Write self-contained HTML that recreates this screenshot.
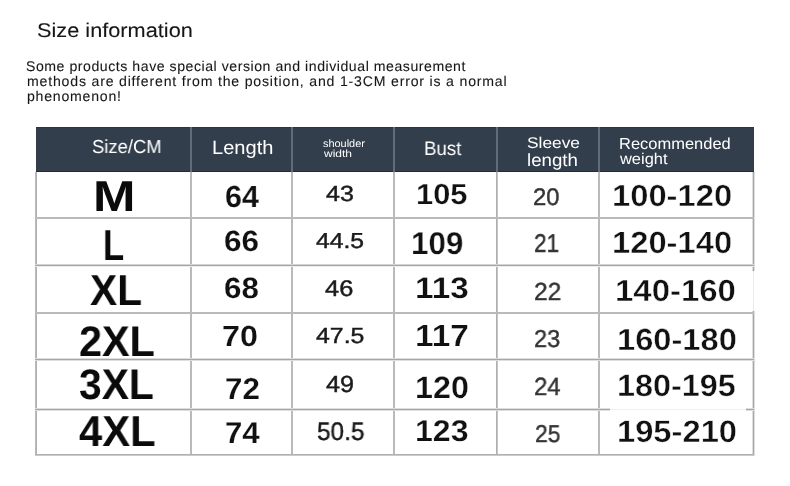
<!DOCTYPE html>
<html><head><meta charset="utf-8"><style>
html,body{margin:0;padding:0;background:#fff;width:790px;height:486px;overflow:hidden}
body>div{position:absolute}
.t{font-family:"Liberation Sans",sans-serif;line-height:1;white-space:pre;transform-origin:0 0;text-rendering:geometricPrecision;will-change:transform}
</style></head><body>
<div style="left:36px;top:127px;width:718px;height:45px;background:#333e4d;"></div>
<div style="left:36px;top:127px;width:718px;height:1px;background:#2e3540;"></div>
<div style="left:36px;top:171px;width:718px;height:1px;background:#232b36;"></div>
<div style="left:190px;top:127px;width:2px;height:45px;background:#5f6c7a;"></div>
<div style="left:291px;top:127px;width:2px;height:45px;background:#5f6c7a;"></div>
<div style="left:393px;top:127px;width:2px;height:45px;background:#5f6c7a;"></div>
<div style="left:496px;top:127px;width:2px;height:45px;background:#5f6c7a;"></div>
<div style="left:598px;top:127px;width:2px;height:45px;background:#5f6c7a;"></div>
<div style="left:35px;top:172px;width:1px;height:283px;background:#bababa;"></div>
<div style="left:36px;top:172px;width:1px;height:283px;background:#b0b0b0;"></div>
<div style="left:190px;top:172px;width:1px;height:283px;background:#bababa;"></div>
<div style="left:191px;top:172px;width:1px;height:283px;background:#bababa;"></div>
<div style="left:291px;top:172px;width:1px;height:283px;background:#bababa;"></div>
<div style="left:292px;top:172px;width:1px;height:283px;background:#bababa;"></div>
<div style="left:393px;top:172px;width:1px;height:283px;background:#bababa;"></div>
<div style="left:394px;top:172px;width:1px;height:283px;background:#bababa;"></div>
<div style="left:496px;top:172px;width:1px;height:283px;background:#b0b0b0;"></div>
<div style="left:497px;top:172px;width:1px;height:283px;background:#c4c4c4;"></div>
<div style="left:598px;top:172px;width:1px;height:283px;background:#bababa;"></div>
<div style="left:599px;top:172px;width:1px;height:283px;background:#bababa;"></div>
<div style="left:753px;top:172px;width:1px;height:99px;background:#a6a6a6;"></div>
<div style="left:752px;top:172px;width:1px;height:99px;background:#dedede;"></div>
<div style="left:754px;top:172px;width:1px;height:99px;background:#dedede;"></div>
<div style="left:753px;top:311px;width:1px;height:145px;background:#a6a6a6;"></div>
<div style="left:752px;top:311px;width:1px;height:145px;background:#dedede;"></div>
<div style="left:754px;top:311px;width:1px;height:145px;background:#dedede;"></div>
<div style="left:753px;top:271px;width:1px;height:40px;background:#ececec;"></div>
<div style="left:35px;top:217px;width:719px;height:1px;background:#bababa;"></div>
<div style="left:35px;top:218px;width:719px;height:1px;background:#bababa;"></div>
<div style="left:35px;top:264px;width:719px;height:1px;background:#d4d4d4;"></div>
<div style="left:35px;top:265px;width:719px;height:1px;background:#a6a6a6;"></div>
<div style="left:35px;top:266px;width:719px;height:1px;background:#ececec;"></div>
<div style="left:35px;top:312px;width:719px;height:1px;background:#bababa;"></div>
<div style="left:35px;top:313px;width:719px;height:1px;background:#bababa;"></div>
<div style="left:35px;top:358px;width:719px;height:1px;background:#dedede;"></div>
<div style="left:35px;top:359px;width:719px;height:1px;background:#a6a6a6;"></div>
<div style="left:35px;top:360px;width:719px;height:1px;background:#dedede;"></div>
<div style="left:35px;top:454px;width:719px;height:1px;background:#b0b0b0;"></div>
<div style="left:35px;top:455px;width:719px;height:1px;background:#cacaca;"></div>
<div style="left:35px;top:408px;width:575px;height:1px;background:#dedede;"></div>
<div style="left:746px;top:408px;width:8px;height:1px;background:#dedede;"></div>
<div style="left:35px;top:409px;width:575px;height:1px;background:#a6a6a6;"></div>
<div style="left:746px;top:409px;width:8px;height:1px;background:#a6a6a6;"></div>
<div style="left:35px;top:410px;width:575px;height:1px;background:#dedede;"></div>
<div style="left:746px;top:410px;width:8px;height:1px;background:#dedede;"></div>
<div style="left:610px;top:409px;width:136px;height:1px;background:#f0f0f0;"></div>
<div class="t" style="left:37.06px;top:22.44px;font-size:19.834px;font-weight:400;color:#161616;transform:scaleX(1.096);letter-spacing:0px;-webkit-text-stroke:0.1px #161616">Size information</div>
<div class="t" style="left:26.38px;top:59.49px;font-size:14.1px;font-weight:400;color:#161616;transform:scaleX(1.0);letter-spacing:0.547px;-webkit-text-stroke:0.1px #161616">Some products have special version and individual measurement</div>
<div class="t" style="left:26.57px;top:74.43px;font-size:14.1px;font-weight:400;color:#161616;transform:scaleX(1.0);letter-spacing:0.814px;-webkit-text-stroke:0.1px #161616">methods are different from the position, and 1-3CM error is a normal</div>
<div class="t" style="left:26.58px;top:89.44px;font-size:14.1px;font-weight:400;color:#161616;transform:scaleX(1.0);letter-spacing:0.775px;-webkit-text-stroke:0.1px #161616">phenomenon!</div>
<div class="t" style="left:92.03px;top:137.71px;font-size:18.872px;font-weight:400;color:#ffffff;transform:scaleX(0.9763);letter-spacing:0px;-webkit-text-stroke:0">Size/CM</div>
<div class="t" style="left:211.64px;top:138.79px;font-size:19.229px;font-weight:400;color:#ffffff;transform:scaleX(1.0442);letter-spacing:0px;-webkit-text-stroke:0">Length</div>
<div class="t" style="left:323.14px;top:139.04px;font-size:10.619px;font-weight:400;color:#ffffff;transform:scaleX(1.029);letter-spacing:0px;-webkit-text-stroke:0">shoulder</div>
<div class="t" style="left:323.9px;top:150.47px;font-size:10.345px;font-weight:400;color:#ffffff;transform:scaleX(1.1629);letter-spacing:0px;-webkit-text-stroke:0">width</div>
<div class="t" style="left:424.35px;top:139.71px;font-size:19.482px;font-weight:400;color:#ffffff;transform:scaleX(0.959);letter-spacing:0px;-webkit-text-stroke:0">Bust</div>
<div class="t" style="left:527.13px;top:135.94px;font-size:15.572px;font-weight:400;color:#ffffff;transform:scaleX(1.1126);letter-spacing:0px;-webkit-text-stroke:0">Sleeve</div>
<div class="t" style="left:527.05px;top:151.55px;font-size:17.625px;font-weight:400;color:#ffffff;transform:scaleX(1.0594);letter-spacing:0px;-webkit-text-stroke:0">length</div>
<div class="t" style="left:618.74px;top:136.61px;font-size:15.873px;font-weight:400;color:#ffffff;transform:scaleX(1.0387);letter-spacing:0px;-webkit-text-stroke:0">Recommended</div>
<div class="t" style="left:620.44px;top:152.28px;font-size:15.468px;font-weight:400;color:#ffffff;transform:scaleX(1.0638);letter-spacing:0px;-webkit-text-stroke:0">weight</div>
<div class="t" style="left:93.28px;top:176.03px;font-size:43.178px;font-weight:700;color:#0a0a0a;transform:scaleX(1.1815);letter-spacing:0px;-webkit-text-stroke:0">M</div>
<div class="t" style="left:103.22px;top:224.94px;font-size:43.089px;font-weight:700;color:#0a0a0a;transform:scaleX(0.8068);letter-spacing:0px;-webkit-text-stroke:0">L</div>
<div class="t" style="left:89.61px;top:270.12px;font-size:43.384px;font-weight:700;color:#0a0a0a;transform:scaleX(0.9368);letter-spacing:0px;-webkit-text-stroke:0">XL</div>
<div class="t" style="left:78.85px;top:321.0px;font-size:42.809px;font-weight:700;color:#0a0a0a;transform:scaleX(0.9671);letter-spacing:0px;-webkit-text-stroke:0">2XL</div>
<div class="t" style="left:78.7px;top:364.49px;font-size:42.809px;font-weight:700;color:#0a0a0a;transform:scaleX(0.9545);letter-spacing:0px;-webkit-text-stroke:0">3XL</div>
<div class="t" style="left:78.97px;top:410.83px;font-size:43.178px;font-weight:700;color:#0a0a0a;transform:scaleX(0.9685);letter-spacing:0px;-webkit-text-stroke:0">4XL</div>
<div class="t" style="left:224.66px;top:181.86px;font-size:30.719px;font-weight:700;color:#111111;transform:scaleX(0.9943);letter-spacing:0px;-webkit-text-stroke:0.15px #fff">64</div>
<div class="t" style="left:223.83px;top:226.93px;font-size:29.365px;font-weight:700;color:#111111;transform:scaleX(1.0707);letter-spacing:0px;-webkit-text-stroke:0.15px #fff">66</div>
<div class="t" style="left:223.88px;top:274.4px;font-size:29.325px;font-weight:700;color:#111111;transform:scaleX(1.0678);letter-spacing:0px;-webkit-text-stroke:0.15px #fff">68</div>
<div class="t" style="left:221.85px;top:322.84px;font-size:29.244px;font-weight:700;color:#111111;transform:scaleX(1.1053);letter-spacing:0px;-webkit-text-stroke:0.15px #fff">70</div>
<div class="t" style="left:225.27px;top:374.54px;font-size:30.309px;font-weight:700;color:#111111;transform:scaleX(1.0332);letter-spacing:0px;-webkit-text-stroke:0.15px #fff">72</div>
<div class="t" style="left:225.48px;top:418.62px;font-size:30.353px;font-weight:700;color:#111111;transform:scaleX(1.0288);letter-spacing:0px;-webkit-text-stroke:0.15px #fff">74</div>
<div class="t" style="left:325.63px;top:183.07px;font-size:21.949px;font-weight:400;color:#1a1a1a;transform:scaleX(1.1411);letter-spacing:0px;-webkit-text-stroke:0.45px #1a1a1a">43</div>
<div class="t" style="left:315.99px;top:229.89px;font-size:21.657px;font-weight:400;color:#1a1a1a;transform:scaleX(1.1421);letter-spacing:0px;-webkit-text-stroke:0.45px #1a1a1a">44.5</div>
<div class="t" style="left:324.97px;top:277.38px;font-size:22.684px;font-weight:400;color:#1a1a1a;transform:scaleX(1.1215);letter-spacing:0px;-webkit-text-stroke:0.45px #1a1a1a">46</div>
<div class="t" style="left:316.12px;top:325.07px;font-size:21.934px;font-weight:400;color:#1a1a1a;transform:scaleX(1.1349);letter-spacing:0px;-webkit-text-stroke:0.45px #1a1a1a">47.5</div>
<div class="t" style="left:325.55px;top:372.75px;font-size:23.381px;font-weight:400;color:#1a1a1a;transform:scaleX(1.0793);letter-spacing:0px;-webkit-text-stroke:0.45px #1a1a1a">49</div>
<div class="t" style="left:316.93px;top:420.19px;font-size:25.308px;font-weight:400;color:#1a1a1a;transform:scaleX(0.9633);letter-spacing:0px;-webkit-text-stroke:0.45px #1a1a1a">50.5</div>
<div class="t" style="left:415.69px;top:181.26px;font-size:29.009px;font-weight:700;color:#111111;transform:scaleX(1.0629);letter-spacing:0px;-webkit-text-stroke:0.25px #fff">105</div>
<div class="t" style="left:411.03px;top:228.25px;font-size:31.528px;font-weight:700;color:#111111;transform:scaleX(0.9958);letter-spacing:0px;-webkit-text-stroke:0.25px #fff">109</div>
<div class="t" style="left:414.8px;top:274.22px;font-size:29.72px;font-weight:700;color:#111111;transform:scaleX(1.1187);letter-spacing:0px;-webkit-text-stroke:0.25px #fff">113</div>
<div class="t" style="left:414.97px;top:321.28px;font-size:30.599px;font-weight:700;color:#111111;transform:scaleX(1.0907);letter-spacing:0px;-webkit-text-stroke:0.25px #fff">117</div>
<div class="t" style="left:415.44px;top:372.44px;font-size:31.048px;font-weight:700;color:#111111;transform:scaleX(1.0395);letter-spacing:0px;-webkit-text-stroke:0.25px #fff">120</div>
<div class="t" style="left:414.71px;top:416.9px;font-size:30.062px;font-weight:700;color:#111111;transform:scaleX(1.0669);letter-spacing:0px;-webkit-text-stroke:0.25px #fff">123</div>
<div class="t" style="left:532.75px;top:185.58px;font-size:23.885px;font-weight:400;color:#333333;transform:scaleX(0.9957);letter-spacing:0px;-webkit-text-stroke:0.45px #333">20</div>
<div class="t" style="left:533.83px;top:232.19px;font-size:25.66px;font-weight:400;color:#333333;transform:scaleX(0.8797);letter-spacing:0px;-webkit-text-stroke:0.45px #333">21</div>
<div class="t" style="left:533.74px;top:281.28px;font-size:24.757px;font-weight:400;color:#333333;transform:scaleX(0.9909);letter-spacing:0px;-webkit-text-stroke:0.45px #333">22</div>
<div class="t" style="left:533.59px;top:328.39px;font-size:24.525px;font-weight:400;color:#333333;transform:scaleX(0.957);letter-spacing:0px;-webkit-text-stroke:0.45px #333">23</div>
<div class="t" style="left:533.86px;top:374.76px;font-size:24.935px;font-weight:400;color:#333333;transform:scaleX(0.9631);letter-spacing:0px;-webkit-text-stroke:0.45px #333">24</div>
<div class="t" style="left:535.02px;top:422.85px;font-size:24.268px;font-weight:400;color:#333333;transform:scaleX(0.9439);letter-spacing:0px;-webkit-text-stroke:0.45px #333">25</div>
<div class="t" style="left:612.17px;top:182.15px;font-size:30.36px;font-weight:700;color:#111111;transform:scaleX(1.0784);letter-spacing:0px;-webkit-text-stroke:0.4px #fff">100-120</div>
<div class="t" style="left:612.08px;top:227.84px;font-size:30.715px;font-weight:700;color:#111111;transform:scaleX(1.0657);letter-spacing:0px;-webkit-text-stroke:0.4px #fff">120-140</div>
<div class="t" style="left:614.83px;top:276.43px;font-size:30.595px;font-weight:700;color:#111111;transform:scaleX(1.0777);letter-spacing:0px;-webkit-text-stroke:0.4px #fff">140-160</div>
<div class="t" style="left:617.21px;top:324.94px;font-size:30.641px;font-weight:700;color:#111111;transform:scaleX(1.0664);letter-spacing:0px;-webkit-text-stroke:0.4px #fff">160-180</div>
<div class="t" style="left:617.18px;top:371.04px;font-size:30.723px;font-weight:700;color:#111111;transform:scaleX(1.0539);letter-spacing:0px;-webkit-text-stroke:0.4px #fff">180-195</div>
<div class="t" style="left:617.18px;top:416.05px;font-size:30.978px;font-weight:700;color:#111111;transform:scaleX(1.0558);letter-spacing:0px;-webkit-text-stroke:0.4px #fff">195-210</div>
</body></html>
